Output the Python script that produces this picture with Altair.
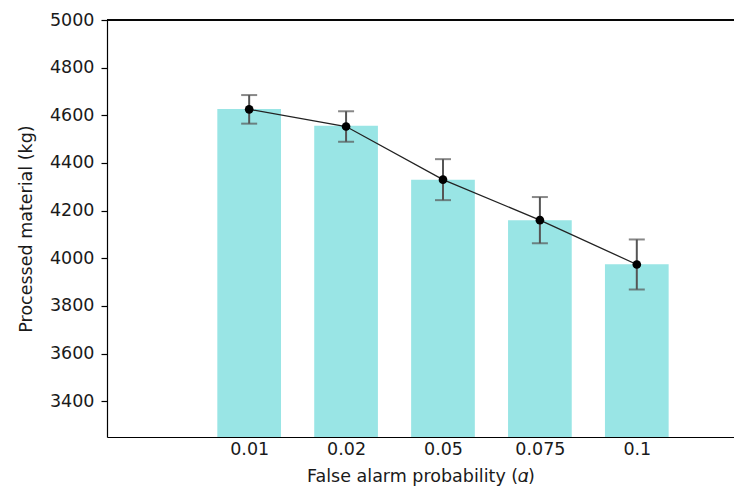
import altair as alt
import pandas as pd

# data
alpha_labels = ["0.01", "0.02", "0.05", "0.075", "0.1"]
positions = [0, 1, 2, 3, 4]
bar_values = [4627, 4556, 4330, 4160, 3975]
mean_values = [4625, 4553, 4330, 4160, 3974]
errors = [60, 64, 86, 97, 105]

df = pd.DataFrame({
    "pos": positions,
    "label": alpha_labels,
    "bar": bar_values,
    "mean": mean_values,
    "err": errors,
})
df["lo"] = df["mean"] - df["err"]
df["hi"] = df["mean"] + df["err"]

W, H = 627, 417
FONT = "DejaVu Sans"
FS = 17.5

label_array = "[" + ",".join("'" + s + "'" for s in alpha_labels) + "]"

xscale = alt.Scale(domain=[-1.467, 5.003], nice=False, zero=False, padding=0)
yscale = alt.Scale(domain=[3250, 5000], nice=False, zero=False, clamp=True, padding=0)

x_axis = alt.Axis(
    values=positions,
    labelExpr=label_array + "[datum.value]",
    ticks=False,
    grid=False,
    labelPadding=3,
    labelFontSize=FS,
    labelFont=FONT,
    labelColor="#1a1a1a",
    title="False alarm probability (\U0001D6FC)",
    titleFont=FONT,
    titleFontSize=FS,
    titleFontWeight="normal",
    titleColor="#1a1a1a",
    titlePadding=10,
    domainColor="#000000",
    domainWidth=1.2,
)
y_axis = alt.Axis(
    values=list(range(3400, 5001, 200)),
    format="d",
    grid=False,
    tickSize=6,
    tickColor="#000000",
    tickWidth=1.2,
    labelPadding=7,
    labelFontSize=FS,
    labelFont=FONT,
    labelColor="#1a1a1a",
    title="Processed material (kg)",
    titleFont=FONT,
    titleFontSize=FS,
    titleFontWeight="normal",
    titleColor="#1a1a1a",
    titlePadding=14,
    domainColor="#000000",
    domainWidth=1.2,
)

base = alt.Chart(df)

bars = base.mark_bar(size=63.7, color="#99E5E5").encode(
    x=alt.X("pos:Q", scale=xscale, axis=x_axis),
    y=alt.Y("bar:Q", scale=yscale, axis=y_axis),
)

err_rule = base.mark_rule(color="#555555", strokeWidth=2).encode(
    x=alt.X("pos:Q", scale=xscale),
    y=alt.Y("lo:Q", scale=yscale),
    y2="hi:Q",
)
cap_lo = base.mark_tick(color="#555555", orient="horizontal", size=16, thickness=2).encode(
    x=alt.X("pos:Q", scale=xscale),
    y=alt.Y("lo:Q", scale=yscale),
)
cap_hi = base.mark_tick(color="#555555", orient="horizontal", size=16, thickness=2).encode(
    x=alt.X("pos:Q", scale=xscale),
    y=alt.Y("hi:Q", scale=yscale),
)

line = base.mark_line(color="#222222", strokeWidth=1.3).encode(
    x=alt.X("pos:Q", scale=xscale),
    y=alt.Y("mean:Q", scale=yscale),
)
dots = base.mark_circle(color="#000000", size=75, opacity=1).encode(
    x=alt.X("pos:Q", scale=xscale),
    y=alt.Y("mean:Q", scale=yscale),
)

top_spine = alt.Chart(df).mark_rule(color="#000000", strokeWidth=1.2).encode(
    x=alt.value(0), x2=alt.value(W), y=alt.value(0)
)

chart = alt.layer(bars, err_rule, cap_lo, cap_hi, line, dots, top_spine).properties(
    width=W,
    height=H,
    autosize=alt.AutoSizeParams(type="none"),
    padding={"left": 99, "top": 12, "right": 0, "bottom": 52},
).configure_view(stroke=None).configure(background="white")

chart.save("out.html", embed_options={"renderer": "svg", "actions": False})
